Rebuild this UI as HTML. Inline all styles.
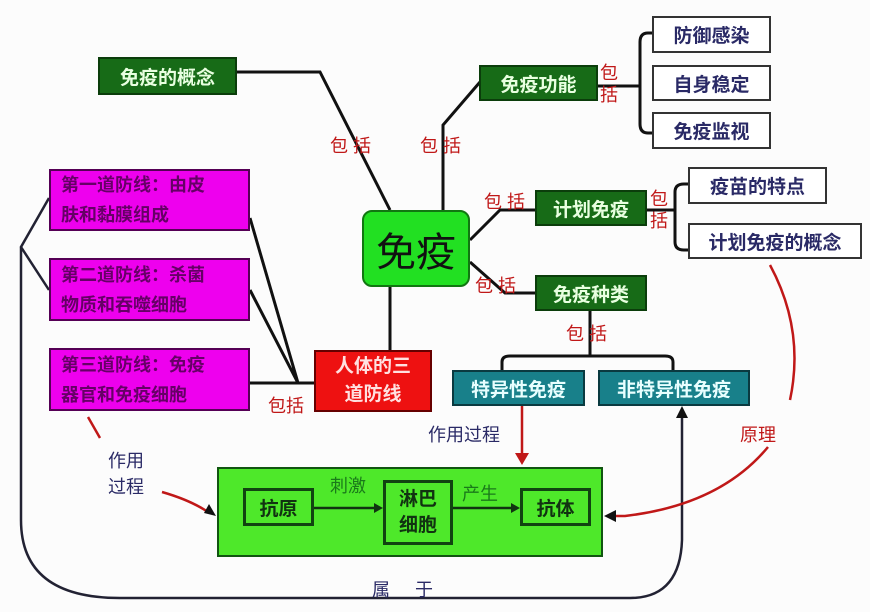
<!DOCTYPE html>
<html><head><meta charset="utf-8"><style>
body{margin:0;background:#fcfcfc;width:870px;height:612px;overflow:hidden;position:relative;font-family:"Liberation Sans","Noto Sans CJK SC",sans-serif}
.b{position:absolute;box-sizing:border-box;display:flex;align-items:center;justify-content:center;text-align:center;font-weight:bold}
.dg{background:#176b17;border:2px solid #0b3d0b;color:#e8ffe0;font-size:19px}
.wt{background:#fff;border:2px solid #333;color:#2a2a66;font-size:19px}
.mg{background:#ee00ee;border:2px solid #550055;color:#660066;font-size:18px;justify-content:flex-start;text-align:left;padding-left:10px;line-height:30px}
.tl{background:#18808a;border:2px solid #0a3a40;color:#e8ffff;font-size:19px}
.t{position:absolute;font-size:18px;white-space:nowrap}
.r{color:#c01818}.n{color:#2a2a66}.g{color:#1a7a1a}
</style></head><body>
<svg width="870" height="612" style="position:absolute;left:0;top:0" fill="none">
<g stroke="#111" stroke-width="3">
<path d="M237 72 H320 L390 210"/>
<path d="M443 210 V125 L480 82"/>
<path d="M470 240 L500 210 H535"/>
<path d="M470 262 L505 293 H535"/>
<path d="M390 287 V350"/>
<path d="M250 218 L298 383 M250 290 L298 383 M250 383 H314"/>
<path d="M598 86 H640 M652 33 H648 Q640 33 640 42 V124 Q640 133 648 133 H652"/>
<path d="M647 210 H675 M688 184 H684 Q675 184 675 192 V242 Q675 250 684 250 H688"/>
<path d="M590 310 V356 M502 370 V362 Q502 356 510 356 H665 Q673 356 673 362 V370"/>
</g>
<g stroke="#223" stroke-width="2.5">
<path d="M49 198 L21 247 L49 290 M21 247 V520 Q21 598 120 598 H630 Q680 598 682 540 V412"/>
</g>
<path d="M682 406 l-6 12 h12z" fill="#111"/>
<g stroke="#c01818" stroke-width="2.5">
<path d="M522 406 V458"/>
<path d="M770 265 Q805 330 790 400 M768 447 Q720 505 625 516 H612"/>
<path d="M88 417 L100 438 M162 492 Q190 500 208 512"/>
</g>
<path d="M522 465 l-7 -12 h14z" fill="#c01818"/>
<path d="M604 516 l12 -6 v12z M216 516 l-12 -3 l5 -9z" fill="#111"/>
</svg>
<div class="b dg" style="left:98px;top:57px;width:139px;height:38px">免疫的概念</div>
<div class="b" style="left:362px;top:210px;width:108px;height:77px;background:#22e022;border:2px solid #117711;border-radius:10px;font-size:40px;font-weight:normal;color:#111">免疫</div>
<div class="b dg" style="left:479px;top:65px;width:119px;height:36px">免疫功能</div>
<div class="b wt" style="left:652px;top:16px;width:119px;height:37px">防御感染</div>
<div class="b wt" style="left:652px;top:65px;width:119px;height:36px">自身稳定</div>
<div class="b wt" style="left:652px;top:112px;width:119px;height:37px">免疫监视</div>
<div class="b dg" style="left:535px;top:190px;width:112px;height:36px">计划免疫</div>
<div class="b wt" style="left:688px;top:167px;width:139px;height:37px">疫苗的特点</div>
<div class="b wt" style="left:688px;top:223px;width:174px;height:36px">计划免疫的概念</div>
<div class="b dg" style="left:535px;top:275px;width:112px;height:36px">免疫种类</div>
<div class="b tl" style="left:452px;top:370px;width:133px;height:36px">特异性免疫</div>
<div class="b tl" style="left:598px;top:370px;width:152px;height:36px">非特异性免疫</div>
<div class="b mg" style="left:49px;top:169px;width:201px;height:62px">第一道防线：由皮<br>肤和黏膜组成</div>
<div class="b mg" style="left:49px;top:258px;width:201px;height:63px">第二道防线：杀菌<br>物质和吞噬细胞</div>
<div class="b mg" style="left:49px;top:348px;width:201px;height:63px">第三道防线：免疫<br>器官和免疫细胞</div>
<div class="b" style="left:314px;top:350px;width:118px;height:62px;background:#ee1111;border:2px solid #660000;color:#ffe0e0;font-size:19px;line-height:28px">人体的三<br>道防线</div>
<div class="b" style="left:217px;top:467px;width:386px;height:90px;background:#4ee82a;border:2px solid #115511"></div>
<svg width="870" height="612" style="position:absolute;left:0;top:0" fill="none">
<path d="M314 508 H375 M453 508 H512" stroke="#113311" stroke-width="2.5"/>
<path d="M383 508 l-9 -5 v10z M520 508 l-9 -5 v10z" fill="#113311"/>
</svg>
<div class="b" style="left:243px;top:488px;width:71px;height:38px;border:3px solid #114411;color:#113311;font-size:19px">抗原</div>
<div class="b" style="left:383px;top:480px;width:70px;height:65px;border:3px solid #114411;color:#113311;font-size:19px;line-height:26px">淋巴<br>细胞</div>
<div class="b" style="left:520px;top:488px;width:71px;height:38px;border:3px solid #114411;color:#113311;font-size:19px">抗体</div>
<div class="t r" style="left:330px;top:132px">包 括</div>
<div class="t r" style="left:420px;top:132px">包 括</div>
<div class="t r" style="left:600px;top:62px;line-height:22px">包<br>括</div>
<div class="t r" style="left:484px;top:188px">包 括</div>
<div class="t r" style="left:650px;top:188px;line-height:22px">包<br>括</div>
<div class="t r" style="left:475px;top:272px">包 括</div>
<div class="t r" style="left:566px;top:320px">包 括</div>
<div class="t r" style="left:268px;top:392px">包括</div>
<div class="t n" style="left:428px;top:421px">作用过程</div>
<div class="t r" style="left:740px;top:421px">原理</div>
<div class="t n" style="left:108px;top:448px;line-height:26px">作用<br>过程</div>
<div class="t g" style="left:330px;top:472px">刺激</div>
<div class="t g" style="left:462px;top:480px">产生</div>
<div class="t n" style="left:372px;top:576px">属&nbsp;&nbsp;&nbsp;&nbsp;&nbsp;于</div>
</body></html>
